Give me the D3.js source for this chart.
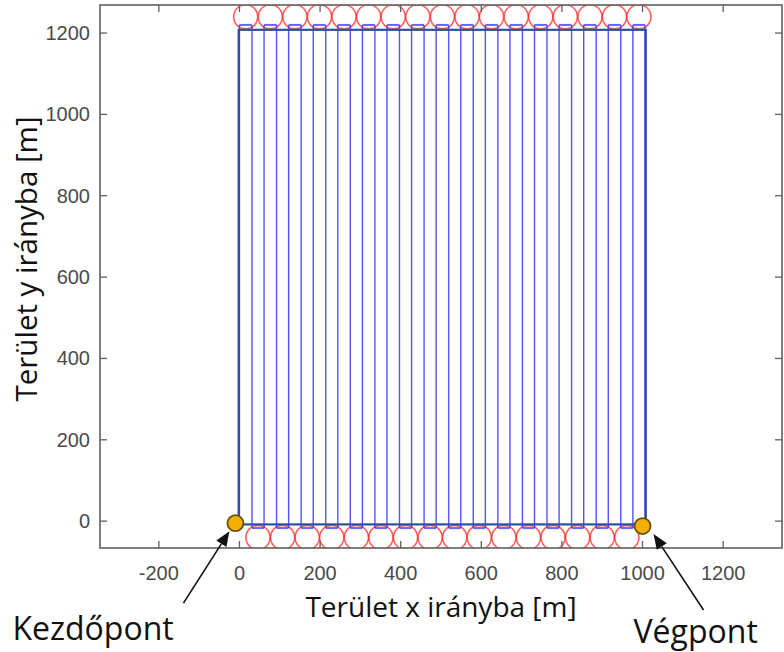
<!DOCTYPE html>
<html>
<head>
<meta charset="utf-8">
<script src="https://cdn.jsdelivr.net/npm/d3@7"></script>
<style>
  body { margin: 0; background: #fff; }
  svg { display: block; }
</style>
</head>
<body>
<div id="chart"></div>
<script>
// tick values
var xTickValues = [-200, 0, 200, 400, 600, 800, 1000, 1200];
var yTickValues = [0, 200, 400, 600, 800, 1000, 1200];

// x position of every pass [m]
var trackX = [0, 31, 61, 92, 122, 153, 183, 214, 244, 275, 305, 336, 366, 397, 427, 458, 488,
              519, 549, 580, 610, 641, 671, 702, 732, 763, 793, 824, 854, 885, 915, 946, 976, 1006];
var trackY = [-17, 1220];        // pass ends (connectors)
var turnY = [-40, 1240];         // turn circle centres (bottom, top)
var turnRadius = 30;             // [m]
var fieldX = [-2, 1008];
var fieldY = [-8, 1208];

// start / end point
var markerNames = ["Kezdőpont", "Végpont"];
var markerX = [-10, 1000];
var markerY = [-5, -12];

var width = 784, height = 652;
var box = {left: 100, right: 782, top: 5, bottom: 548};

var x = d3.scaleLinear().domain([-346, 1346]).range([box.left, box.right]);
var y = d3.scaleLinear().domain([-66, 1269]).range([box.bottom, box.top]);

var svg = d3.select("#chart").append("svg")
    .attr("width", width)
    .attr("height", height);

svg.append("clipPath").attr("id", "clip")
  .append("rect")
    .attr("x", box.left).attr("y", box.top)
    .attr("width", box.right - box.left).attr("height", box.bottom - box.top);

var plot = svg.append("g").attr("clip-path", "url(#clip)");

// turn circles: top between passes 0-1, 2-3 ...; bottom between 1-2, 3-4 ...
var turns = [];
for (var i = 0; i < trackX.length - 1; i++) {
  turns.push({cx: (trackX[i] + trackX[i + 1]) / 2, cy: i % 2 === 0 ? turnY[1] : turnY[0],
              x0: trackX[i], x1: trackX[i + 1], yc: i % 2 === 0 ? trackY[1] : trackY[0]});
}

plot.append("g").selectAll("circle")
    .data(turns)
  .enter().append("circle")
    .attr("cx", function(d) { return x(d.cx); })
    .attr("cy", function(d) { return y(d.cy); })
    .attr("r", x(turnRadius) - x(0))
    .style("fill", "none")
    .style("stroke", "#ff2a2a")
    .style("stroke-opacity", 0.75)
    .style("stroke-width", 1.6);

// passes
plot.append("g").selectAll("line")
    .data(trackX)
  .enter().append("line")
    .attr("x1", function(d) { return x(d); })
    .attr("x2", function(d) { return x(d); })
    .attr("y1", y(trackY[0]))
    .attr("y2", y(trackY[1]))
    .style("stroke", "#3535ff")
    .style("stroke-opacity", 0.85)
    .style("stroke-width", 1.4);

// connectors
plot.append("g").selectAll("line")
    .data(turns)
  .enter().append("line")
    .attr("x1", function(d) { return x(d.x0); })
    .attr("x2", function(d) { return x(d.x1); })
    .attr("y1", function(d) { return y(d.yc); })
    .attr("y2", function(d) { return y(d.yc); })
    .style("stroke", "#4a4aff")
    .style("stroke-opacity", 0.85)
    .style("stroke-width", 2);

// field border
plot.append("rect")
    .attr("x", x(fieldX[0]))
    .attr("y", y(fieldY[1]))
    .attr("width", x(fieldX[1]) - x(fieldX[0]))
    .attr("height", y(fieldY[0]) - y(fieldY[1]))
    .style("fill", "none")
    .style("stroke", "#2f4f9a")
    .style("stroke-width", 2.2);

// axes box
var axisColor = "#5f5f5f";
var tickFont = "'Liberation Sans', Arial, sans-serif";
svg.append("rect")
    .attr("x", box.left).attr("y", box.top)
    .attr("width", box.right - box.left).attr("height", box.bottom - box.top)
    .style("fill", "none")
    .style("stroke", axisColor)
    .style("stroke-width", 1.6);

var tl = 7;
var ticks = svg.append("g").style("stroke", axisColor).style("stroke-width", 1.3);
xTickValues.forEach(function(v) {
  ticks.append("line").attr("x1", x(v)).attr("x2", x(v)).attr("y1", box.bottom).attr("y2", box.bottom - tl);
  ticks.append("line").attr("x1", x(v)).attr("x2", x(v)).attr("y1", box.top).attr("y2", box.top + tl);
});
yTickValues.forEach(function(v) {
  ticks.append("line").attr("y1", y(v)).attr("y2", y(v)).attr("x1", box.left).attr("x2", box.left + tl);
  ticks.append("line").attr("y1", y(v)).attr("y2", y(v)).attr("x1", box.right).attr("x2", box.right - tl);
});

svg.append("g").selectAll("text")
    .data(xTickValues)
  .enter().append("text")
    .attr("x", function(d) { return x(d); })
    .attr("y", box.bottom + 32)
    .attr("text-anchor", "middle")
    .style("font-family", tickFont)
    .style("font-size", "20px")
    .style("fill", "#4a4a4a")
    .text(function(d) { return d; });

svg.append("g").selectAll("text")
    .data(yTickValues)
  .enter().append("text")
    .attr("x", box.left - 10)
    .attr("y", function(d) { return y(d) + 7; })
    .attr("text-anchor", "end")
    .style("font-family", tickFont)
    .style("font-size", "20px")
    .style("fill", "#4a4a4a")
    .text(function(d) { return d; });

var labelFont = "'Open Sans', sans-serif";
svg.append("text")
    .attr("x", 441).attr("y", 617)
    .attr("text-anchor", "middle")
    .style("font-family", labelFont)
    .style("font-size", "28px")
    .style("fill", "#111")
    .text("Terület x irányba [m]");

svg.append("text")
    .attr("transform", "translate(37,259) rotate(-90)")
    .attr("text-anchor", "middle")
    .style("font-family", labelFont)
    .style("font-size", "29.5px")
    .style("fill", "#111")
    .text("Terület y irányba [m]");

// annotations: arrow tip / tail and text offsets from the marker, in px
var annot = [
  {tip: [-6, 8], tail: [-52, 80], text: [-223, 117]},
  {tip: [11, 8], tail: [61, 84], text: [-9, 117]}
];

var ann = svg.append("g");
markerNames.forEach(function(name, i) {
  var px = x(markerX[i]), py = y(markerY[i]), a = annot[i];
  var tx = px + a.tip[0], ty = py + a.tip[1];
  var sx = px + a.tail[0], sy = py + a.tail[1];
  var ang = Math.atan2(ty - sy, tx - sx), L = 15, W = 6;
  var bx = tx - L * Math.cos(ang), by = ty - L * Math.sin(ang);
  ann.append("line")
      .attr("x1", sx).attr("y1", sy).attr("x2", bx).attr("y2", by)
      .style("stroke", "#111").style("stroke-width", 1.6);
  ann.append("path")
      .attr("d", "M" + tx + "," + ty +
                 "L" + (bx + W * Math.sin(ang)) + "," + (by - W * Math.cos(ang)) +
                 "L" + (bx - W * Math.sin(ang)) + "," + (by + W * Math.cos(ang)) + "Z")
      .style("fill", "#111");
  ann.append("text")
      .attr("x", px + a.text[0]).attr("y", py + a.text[1])
      .style("font-family", labelFont)
      .style("font-size", "32px")
      .style("fill", "#111")
      .text(name);
});

svg.append("g").selectAll("circle")
    .data(markerX)
  .enter().append("circle")
    .attr("cx", function(d) { return x(d); })
    .attr("cy", function(d, i) { return y(markerY[i]); })
    .attr("r", 8)
    .style("fill", "#f2b000")
    .style("stroke", "#6b5200")
    .style("stroke-width", 1.8);
</script>
</body>
</html>
